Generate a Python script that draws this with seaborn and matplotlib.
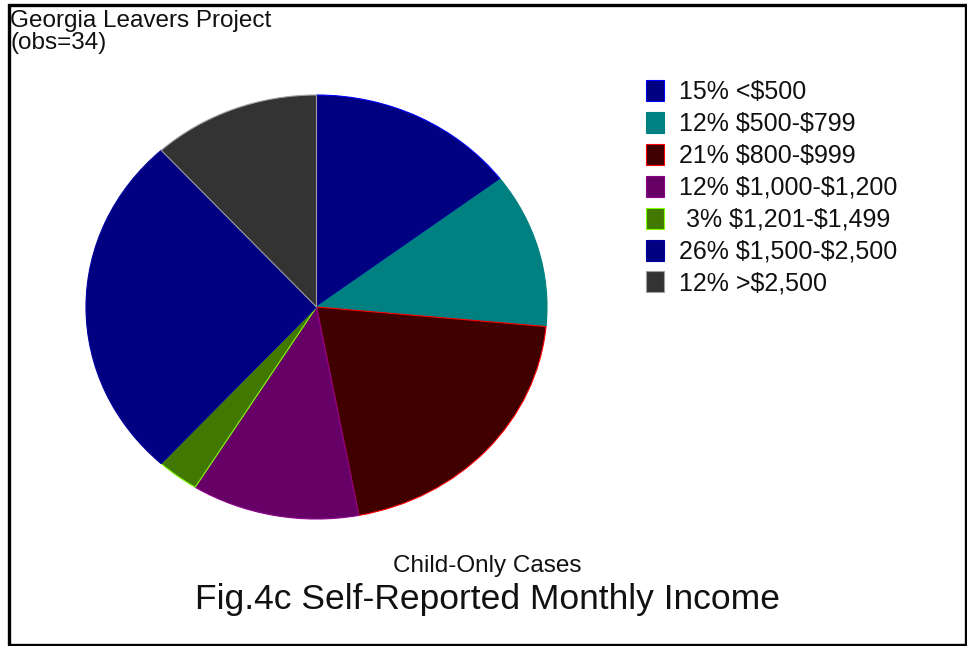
import matplotlib
matplotlib.use("Agg")
import matplotlib.pyplot as plt
import seaborn as sns
from matplotlib.patches import Rectangle

# data (obs=34)
categories = ["<$500", "$500-$799", "$800-$999", "$1,000-$1,200",
              "$1,201-$1,499", "$1,500-$2,500", ">$2,500"]
counts = [5, 4, 7, 4, 1, 9, 4]
pct_labels = ["15%", "12%", "21%", "12%", " 3%", "26%", "12%"]
fill_colors = ["#000080", "#008080", "#400000", "#660066", "#407800", "#000080", "#333333"]
edge_colors = ["#0000FF", "#008080", "#FF0000", "#8B008B", "#80FF00", "#0000A0", "#A0A0A0"]

sns.set_theme(style="white")
plt.rcParams["font.family"] = ["Liberation Sans", "DejaVu Sans"]
plt.rcParams["text.parse_math"] = False

W, H = 967, 646
fig = plt.figure(figsize=(W / 100, H / 100), dpi=100)
fig.patch.set_facecolor("white")

# pie axes placed on the pixel box of the (slightly elliptical) pie
ax = fig.add_axes([86 / W, 1 - 519 / H, 461 / W, 424 / H])
wedges, _ = ax.pie(counts, colors=fill_colors, startangle=90, counterclock=False,
                   radius=1, wedgeprops=dict(linewidth=0.8))
for w, ec in zip(wedges, edge_colors):
    w.set_edgecolor(ec)
ax.set_aspect("auto")
ax.set_xlim(-1, 1)
ax.set_ylim(-1, 1)
ax.axis("off")

labels = [f"{p} {c}" for p, c in zip(pct_labels, categories)]
leg = fig.legend(wedges, labels, loc="upper left",
                 bbox_to_anchor=(646 / W, 1 - 80 / H), frameon=False,
                 fontsize=18, handlelength=0.72, handleheight=0.92,
                 handletextpad=0.6, labelspacing=0.31, borderpad=0,
                 borderaxespad=0)
for t in leg.get_texts():
    t.set_color("#111111")

# header text
fig.text(10 / W, 1 - 27 / H, "Georgia Leavers Project", fontsize=17.5,
         ha="left", va="baseline", color="#111111")
fig.text(10 / W, 1 - 49 / H, "(obs=34)", fontsize=17.5,
         ha="left", va="baseline", color="#111111")

# bottom titles
fig.text(487 / W, 1 - 572 / H, "Child-Only Cases", fontsize=17.5,
         ha="center", va="baseline", color="#111111")
fig.text(487.5 / W, 1 - 609 / H, "Fig.4c Self-Reported Monthly Income", fontsize=25.5,
         ha="center", va="baseline", color="#111111")

# outer frame
fig.patches.append(Rectangle((8.5 / W, 1 - 644.5 / H), (966 - 8.5) / W, (644.5 - 5) / H,
                             transform=fig.transFigure, fill=False,
                             edgecolor="black", linewidth=2.4))

fig.savefig("out.png", dpi=100)
